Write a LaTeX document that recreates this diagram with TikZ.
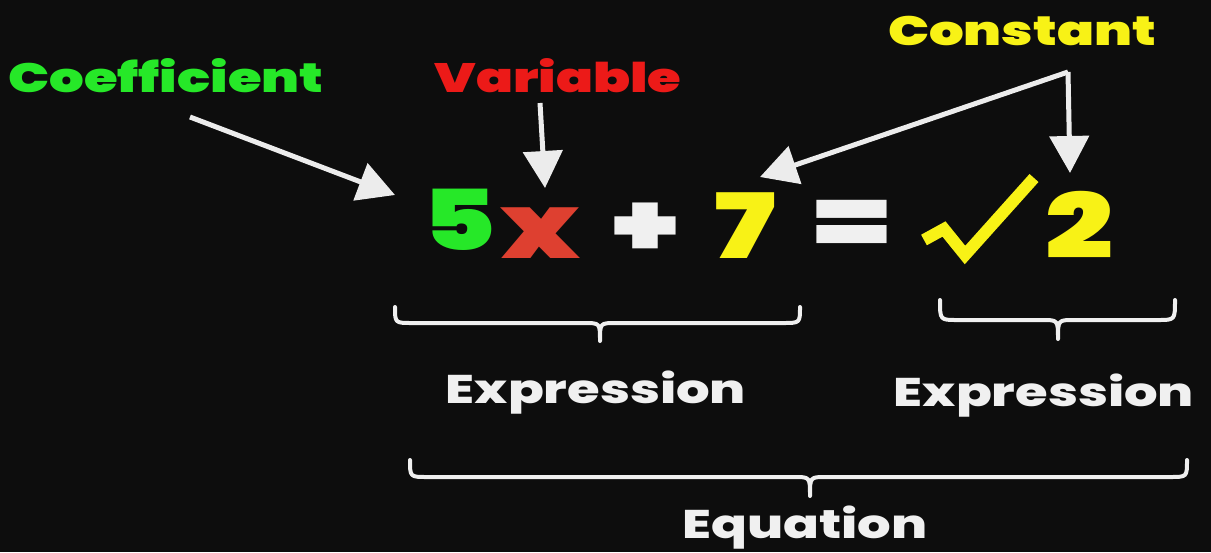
\documentclass[tikz,border=0pt]{standalone}
\usepackage{fontspec}
\setmainfont{Poppins}
\newfontfamily\pblack{Poppins Black}[FakeStretch=1.33]
\newfontfamily\pboldw{Poppins ExtraBold}[FakeStretch=1.32]
\usetikzlibrary{arrows.meta}
\definecolor{bgc}{RGB}{13,13,13}
\definecolor{gr}{RGB}{38,232,40}
\definecolor{rd}{RGB}{236,26,24}
\definecolor{rdx}{RGB}{222,64,48}
\definecolor{yl}{RGB}{248,242,22}
\definecolor{wh}{RGB}{240,240,240}
\definecolor{arrc}{RGB}{236,236,236}
\tikzset{
  lbl/.style={inner sep=0pt, anchor=base, font=\pblack\fontsize{41}{41}\selectfont},
  eqg/.style={inner sep=0pt, anchor=base, font=\pblack\fontsize{90}{90}\selectfont},
  expr/.style={inner sep=0pt, anchor=base, text=wh, font=\pboldw\fontsize{40}{40}\selectfont},
  arr/.style={draw=arrc, line width=5pt, -{Triangle[length=37pt,width=39pt]}},
  brc/.style={draw=wh, line width=4pt, line cap=round, line join=round},
}
\begin{document}
\begin{tikzpicture}[x=1pt,y=-1pt]
\fill[bgc] (0,0) rectangle (1211,552);
\useasboundingbox (0,0) rectangle (1211,552);
% labels
\node[lbl, text=gr] (coef) at (166,92) {Coefficient};
\node[lbl, text=rd] (var) at (558,92) {Variable};
\node[lbl, text=yl] (const) at (1022,45) {Constant};
% equation glyphs
\node[eqg, text=gr, font=\pblack\fontsize{84}{84}\selectfont] (n5) at (459,250) {5};
\node[eqg, text=rdx] (nx) at (540,258) {x};
\node[eqg, text=wh] (plus) at (645,256) {+};
\node[eqg, text=yl] (n7) at (745,258) {7};
\node[eqg, text=wh] (eq) at (852,252) {=};
\node[eqg, text=yl] (n2) at (1079,258) {2};
\draw[yl, line width=12pt, line join=miter, line cap=butt] (924,240) -- (944,229) -- (965,255) -- (1034,178);
% arrows
\coordinate (c1) at (190,117);
\coordinate (t1) at (395,195);
\coordinate (c2) at (540,103);
\coordinate (t2) at (545,188);
\coordinate (cc) at (1068,72);
\coordinate (t3) at (760,177);
\coordinate (t4) at (1070,173);
\draw[arr] (c1) -- (t1);
\draw[arr] (c2) -- (t2);
\draw[arr] (cc) -- (t3);
\draw[arr] (cc) -- (t4);
% braces
\draw[brc] (395,307) .. controls (395,323) .. (412,323) -- (584,323) .. controls (600,323) .. (600,341) .. controls (600,323) .. (616,323) -- (783,323) .. controls (800,323) .. (800,307);
\draw[brc] (940,300) .. controls (940,320) .. (957,320) -- (1042,320) .. controls (1058,320) .. (1058,339) .. controls (1058,320) .. (1074,320) -- (1158,320) .. controls (1175,320) .. (1175,300);
\draw[brc] (410,460) .. controls (410,477) .. (427,477) -- (794,477) .. controls (810,477) .. (810,496) .. controls (810,477) .. (826,477) -- (1170,477) .. controls (1187,477) .. (1187,460);
% expression labels
\node[expr] (e1) at (596,403) {Expression};
\node[expr] (e2) at (1044,406) {Expression};
\node[expr] (equ) at (805,538) {Equation};
\end{tikzpicture}
\end{document}
